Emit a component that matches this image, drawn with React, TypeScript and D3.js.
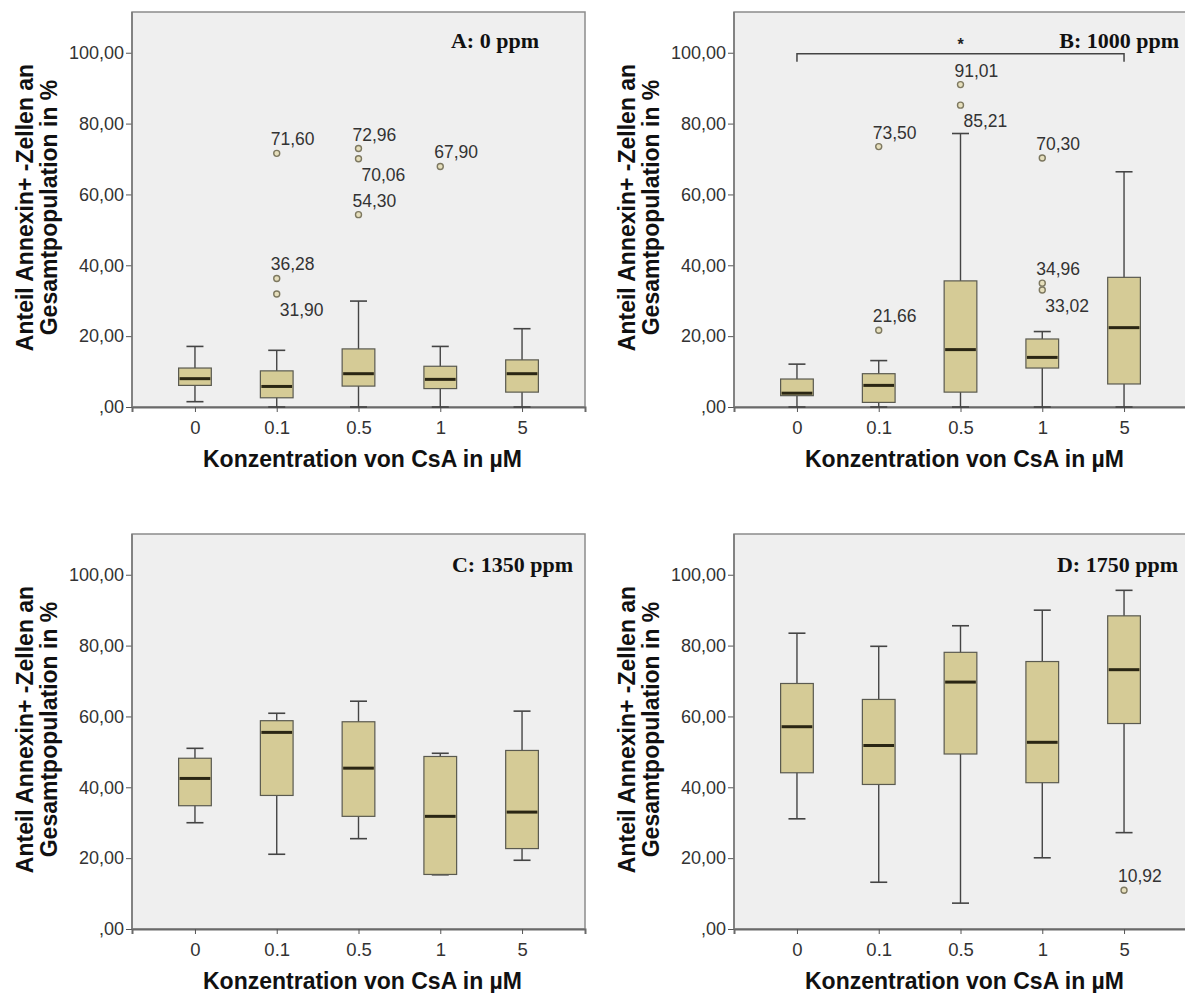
import React, { useEffect, useRef } from 'react';
import * as d3 from 'd3';

// concentrations of CsA (x categories)
const categories = ['0', '0.1', '0.5', '1', '5'];
const panelTitles = ['A: 0 ppm', 'B: 1000 ppm', 'C: 1350 ppm', 'D: 1750 ppm'];
const yTicks = [0, 20, 40, 60, 80, 100];

// [lower whisker, Q1, median, Q3, upper whisker] per category
const statsA = [
  [1.5, 6.1, 8.0, 11.0, 17.1],
  [0, 2.6, 5.8, 10.2, 16.0],
  [0, 5.9, 9.4, 16.4, 29.9],
  [0, 5.2, 7.8, 11.5, 17.1],
  [0, 4.2, 9.4, 13.3, 22.1],
];
const statsB = [
  [0, 3.2, 3.9, 7.9, 12.1],
  [0, 1.3, 6.1, 9.4, 13.1],
  [0, 4.2, 16.2, 35.6, 77.2],
  [0, 11.0, 14.0, 19.2, 21.3],
  [0, 6.5, 22.4, 36.6, 66.4],
];
const statsC = [
  [30.0, 34.8, 42.5, 48.2, 51.0],
  [21.1, 37.7, 55.5, 58.8, 60.9],
  [25.5, 31.8, 45.4, 58.5, 64.3],
  [15.3, 15.4, 31.8, 48.7, 49.6],
  [19.4, 22.7, 33.0, 50.4, 61.5],
];
const statsD = [
  [31.1, 44.1, 57.1, 69.3, 83.5],
  [13.2, 40.8, 51.8, 64.8, 79.8],
  [7.3, 49.4, 69.7, 78.1, 85.6],
  [20.1, 41.3, 52.7, 75.5, 90.0],
  [27.2, 58.0, 73.2, 88.4, 95.6],
];

// outliers: [category, value]
const outliersA = [['0.1', 71.6], ['0.1', 36.28], ['0.1', 31.9], ['0.5', 72.96], ['0.5', 70.06], ['0.5', 54.3], ['1', 67.9]];
const outliersB = [['0.1', 73.5], ['0.1', 21.66], ['0.5', 91.01], ['0.5', 85.21], ['1', 70.3], ['1', 34.96], ['1', 33.02]];
const outliersC = [];
const outliersD = [['5', 10.92]];

// significance bracket in panel B
const sigPairB = ['0', '5'];
const sigLevel = 99.7;

// labels drawn under their point instead of above
const labelBelow = [31.9, 70.06, 85.21, 33.02];

const W = 1185;
const H = 993;

const App = () => {
  const chartRef = useRef(null);

  useEffect(() => {
    const root = d3.select(chartRef.current);
    root.selectAll('*').remove();

    const svg = root.append('svg')
      .attr('width', W)
      .attr('height', H)
      .style('position', 'absolute')
      .style('left', '0px')
      .style('top', '0px')
      .style('background', '#fff');

    const pw = 453;
    const ph = 395;
    const panels = [
      { left: 132, top: 12, stats: statsA, out: outliersA, titleGap: 46 },
      { left: 734, top: 12, stats: statsB, out: outliersB, titleGap: 8 },
      { left: 132, top: 534, stats: statsC, out: outliersC, titleGap: 12 },
      { left: 734, top: 534, stats: statsD, out: outliersD, titleGap: 9 },
    ];

    const fmt = (v) => (v === 0 ? ',00' : d3.format('.2f')(v).replace('.', ','));
    const sans = 'Liberation Sans, Arial, sans-serif';

    panels.forEach((p, pi) => {
      const g = svg.append('g').attr('transform', `translate(${p.left},${p.top})`);

      const x = d3.scalePoint().domain(categories).range([0, pw]).padding(0.77);
      const y = d3.scaleLinear().domain([0, 111.5]).range([ph, 0]);
      const bw = x.step() * 0.4;
      const cw = bw * 0.52;

      g.append('rect')
        .attr('width', pw)
        .attr('height', ph)
        .attr('fill', '#efefef')
        .attr('stroke', '#8c8c8c')
        .attr('stroke-width', 1.5);

      // y axis
      const ya = g.append('g')
        .call(d3.axisLeft(y).tickValues(yTicks).tickSize(6).tickPadding(2).tickFormat(fmt));
      ya.select('.domain').remove();
      ya.selectAll('line').attr('stroke', '#555');
      ya.selectAll('text')
        .attr('font-family', sans)
        .attr('font-size', 18)
        .attr('fill', '#333');

      // x axis
      const xa = g.append('g')
        .attr('transform', `translate(0,${ph})`)
        .call(d3.axisBottom(x).tickSize(5).tickPadding(9));
      xa.select('.domain').attr('stroke', '#6a6a6a').attr('stroke-width', 2);
      xa.selectAll('line').attr('stroke', '#555');
      xa.selectAll('text')
        .attr('font-family', sans)
        .attr('font-size', 18.5)
        .attr('fill', '#333');

      // left axis line
      g.append('line')
        .attr('x1', 0).attr('x2', 0)
        .attr('y1', 0).attr('y2', ph)
        .attr('stroke', '#777')
        .attr('stroke-width', 1.5);

      // axis titles
      g.append('text')
        .attr('x', pw / 2 + 4)
        .attr('y', ph + 60)
        .attr('text-anchor', 'middle')
        .attr('font-family', sans)
        .attr('font-weight', 'bold')
        .attr('font-size', 23)
        .attr('fill', '#111')
        .text('Konzentration von CsA in µM');

      ['Anteil Annexin+ -Zellen an', 'Gesamtpopulation in %'].forEach((t, i) => {
        g.append('text')
          .attr('transform', `translate(${i === 0 ? -99 : -75},${ph / 2 - 2}) rotate(-90)`)
          .attr('text-anchor', 'middle')
          .attr('font-family', sans)
          .attr('font-weight', 'bold')
          .attr('font-size', 23)
          .attr('fill', '#111')
          .text(t);
      });

      // panel label
      g.append('text')
        .attr('x', pw - p.titleGap)
        .attr('y', pi < 2 ? 36 : 38)
        .attr('text-anchor', 'end')
        .attr('font-family', 'Liberation Serif, Times New Roman, serif')
        .attr('font-weight', 'bold')
        .attr('font-size', 22)
        .attr('fill', '#111')
        .text(panelTitles[pi]);

      // boxes
      const boxes = g.selectAll('.box')
        .data(p.stats.map((s, i) => ({ cat: categories[i], s })))
        .enter()
        .append('g')
        .attr('class', 'box')
        .attr('transform', (d) => `translate(${x(d.cat)},0)`);

      boxes.append('line')
        .attr('y1', (d) => y(d.s[0]))
        .attr('y2', (d) => y(d.s[4]))
        .attr('stroke', '#444')
        .attr('stroke-width', 1.4);
      boxes.append('line')
        .attr('x1', -cw / 2).attr('x2', cw / 2)
        .attr('y1', (d) => y(d.s[4])).attr('y2', (d) => y(d.s[4]))
        .attr('stroke', '#444')
        .attr('stroke-width', 1.6);
      boxes.append('line')
        .attr('x1', -cw / 2).attr('x2', cw / 2)
        .attr('y1', (d) => y(d.s[0])).attr('y2', (d) => y(d.s[0]))
        .attr('stroke', '#444')
        .attr('stroke-width', 1.6);
      boxes.append('rect')
        .attr('x', -bw / 2)
        .attr('width', bw)
        .attr('y', (d) => y(d.s[3]))
        .attr('height', (d) => Math.max(1, y(d.s[1]) - y(d.s[3])))
        .attr('fill', '#d5cb96')
        .attr('stroke', '#5a5a50')
        .attr('stroke-width', 1.2);
      boxes.append('line')
        .attr('x1', -bw / 2 + 1).attr('x2', bw / 2 - 1)
        .attr('y1', (d) => y(d.s[2])).attr('y2', (d) => y(d.s[2]))
        .attr('stroke', '#2a2614')
        .attr('stroke-width', 3);

      // outliers
      const outs = g.selectAll('.out')
        .data(p.out)
        .enter()
        .append('g')
        .attr('class', 'out')
        .attr('transform', (d) => `translate(${x(d[0])},${y(d[1])})`);
      outs.append('circle')
        .attr('r', 3)
        .attr('fill', '#e6dfbc')
        .attr('stroke', '#7d7860')
        .attr('stroke-width', 1.4);
      outs.append('text')
        .attr('x', (d) => (labelBelow.includes(d[1]) ? 3 : -6))
        .attr('y', (d) => (labelBelow.includes(d[1]) ? 22 : -8))
        .attr('font-family', sans)
        .attr('font-size', 17.5)
        .attr('fill', '#333')
        .text((d) => fmt(d[1]));

      // significance bracket
      if (pi === 1) {
        const x0 = x(sigPairB[0]);
        const x1 = x(sigPairB[1]);
        const yl = y(sigLevel);
        g.append('path')
          .attr('d', `M${x0},${yl + 8}V${yl}H${x1}V${yl + 8}`)
          .attr('fill', 'none')
          .attr('stroke', '#444')
          .attr('stroke-width', 1.5);
        g.append('text')
          .attr('x', (x0 + x1) / 2)
          .attr('y', yl - 4)
          .attr('text-anchor', 'middle')
          .attr('font-family', sans)
          .attr('font-weight', 'bold')
          .attr('font-size', 16)
          .attr('fill', '#222')
          .text('*');
      }
    });
  }, []);

  return (
    <>
      <div ref={chartRef}></div>
    </>
  );
};

export default App;
